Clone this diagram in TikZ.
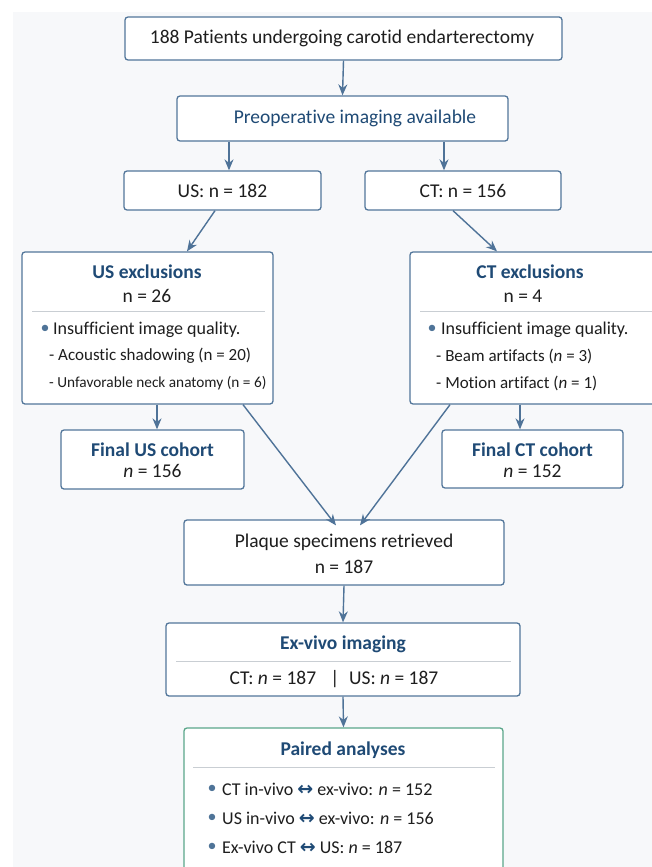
\documentclass[tikz,border=0pt]{standalone}
\usepackage{fontspec}
\setmainfont{Carlito}[RawFeature={-liga;-clig;-dlig;-calt}]
\newfontfamily\symfont{DejaVu Sans}
\usetikzlibrary{arrows.meta,calc}
\definecolor{bgc}{HTML}{F7F8FA}
\definecolor{boxc}{HTML}{52769A}
\definecolor{arrc}{HTML}{4F7398}
\definecolor{titc}{HTML}{1F4A75}
\definecolor{txtc}{HTML}{1E1E1E}
\definecolor{grnc}{HTML}{5AA68A}
\definecolor{sepc}{HTML}{C9CED3}
\definecolor{bulc}{HTML}{4F7498}
\begin{document}
\begin{tikzpicture}[x=1pt,y=-1pt,
  box/.style={draw=boxc, line width=1.3pt, fill=white, rounded corners=3pt, inner sep=0pt},
  gbox/.style={box, draw=grnc},
  txt/.style={font=\fontsize{19.5}{22}\selectfont, text=txtc, inner sep=0pt},
  body/.style={font=\fontsize{18}{21}\selectfont, text=txtc, inner sep=0pt, anchor=west},
  sub/.style={font=\fontsize{17}{20}\selectfont, text=txtc, inner sep=0pt, anchor=west},
  subs/.style={font=\fontsize{15.3}{19}\selectfont, text=txtc, inner sep=0pt, anchor=west},
  ttl/.style={font=\fontsize{19.5}{22}\selectfont\bfseries, text=titc, inner sep=0pt},
  bul/.style={font=\fontsize{18}{21}\selectfont, text=bulc, inner sep=0pt},
  sep/.style={draw=sepc, line width=1pt},
  arr/.style={draw=arrc, line width=1.4pt, -{Stealth[length=11pt,width=9pt]}}
]
\useasboundingbox (0,0) rectangle (652,867);
\clip (0,0) rectangle (652,867);
\fill[white] (0,0) rectangle (652,867);
\fill[bgc] (13,12) rectangle (652,867);

% boxes
\node[box, minimum width=437pt, minimum height=43pt] (top) at (343.5,38.5) {};
\node[box, minimum width=331pt, minimum height=45pt] (pre) at (342.5,118.5) {};
\node[box, minimum width=197pt, minimum height=39pt] (us) at (222.5,190.5) {};
\node[box, minimum width=196pt, minimum height=39pt] (ct) at (463,190.5) {};
\node[box, minimum width=251pt, minimum height=152pt] (usx) at (147.5,328) {};
\node[box, minimum width=251pt, minimum height=152pt] (ctx) at (535.5,328) {};
\node[box, minimum width=183pt, minimum height=59pt] (fus) at (152.5,459.5) {};
\node[box, minimum width=181pt, minimum height=58pt] (fct) at (532.5,459) {};
\node[box, minimum width=320pt, minimum height=65pt] (pl) at (344,552.5) {};
\node[box, minimum width=354pt, minimum height=73pt] (ex) at (343,659.5) {};
\node[gbox, minimum width=319pt, minimum height=160pt] (pa) at (343.5,808) {};

% texts
\node[txt] (toptxt) at (342,38.5) {188 Patients undergoing carotid endarterectomy};
\node[txt, text=titc] (pretxt) at (355,118.5) {Preoperative imaging available};
\node[txt] (ustxt) at (222.5,190.5) {US: n = 182};
\node[txt] (cttxt) at (463,190.5) {CT: n = 156};

\node[ttl] (usxt) at (147,272) {US exclusions};
\node[txt] (usxn) at (147,296) {n = 26};
\draw[sep] (32,311) -- (265,311);
\node[bul] (usb) at (45,329) {\textbullet};
\node[body] (usx1) at (53,330) {Insufficient image quality.};
\node[sub] (usx2) at (49,356) {- Acoustic shadowing (n = 20)};
\node[subs] (usx3) at (49,383) {- Unfavorable neck anatomy (n = 6)};

\node[ttl] (ctxt) at (530,272) {CT exclusions};
\node[txt] (ctxn) at (523,296) {n = 4};
\draw[sep] (420,311) -- (660,311);
\node[bul] (ctb) at (432,329) {\textbullet};
\node[body] (ctx1) at (441,330) {Insufficient image quality.};
\node[sub] (ctx2) at (436,356) {- Beam artifacts (\textit{n} = 3)};
\node[sub] (ctx3) at (436,383) {- Motion artifact (\textit{n} = 1)};

\node[ttl] (fust) at (152.5,450) {Final US cohort};
\node[txt] (fusn) at (152.5,471) {\textit{n} = 156};
\node[ttl] (fctt) at (532.5,450) {Final CT cohort};
\node[txt] (fctn) at (532.5,471) {\textit{n} = 152};

\node[txt] (plt) at (344,542) {Plaque specimens retrieved};
\node[txt] (pln) at (344,567) {n = 187};

\node[ttl] (ext) at (343,644) {Ex-vivo imaging};
\draw[sep] (176,661) -- (511,661);
\node[txt] (exn) at (334,679) {CT: \textit{n} = 187 \enspace|\enspace US: \textit{n} = 187};

\node[ttl] (pat) at (343,750) {Paired analyses};
\draw[sep] (193,767) -- (495,767);
\node[bul] (pb1) at (212,789) {\textbullet};
\node[body] (pa1) at (222,789) {CT in-vivo {\color{titc}\symfont\bfseries\fontsize{19}{21}\selectfont ↔} ex-vivo: \textit{n} = 152};
\node[bul] (pb2) at (212,818) {\textbullet};
\node[body] (pa2) at (222,818) {US in-vivo {\color{titc}\symfont\bfseries\fontsize{19}{21}\selectfont ↔} ex-vivo: \textit{n} = 156};
\node[bul] (pb3) at (212,847) {\textbullet};
\node[body] (pa3) at (222,847) {Ex-vivo CT {\color{titc}\symfont\bfseries\fontsize{19}{21}\selectfont ↔} US: \textit{n} = 187};

% connectors
\draw[arr] (top.south) -- (pre.north);
\draw[arr] ([xshift=6.5pt]us.north |- pre.south) -- ([xshift=6.5pt]us.north);
\draw[arr] ([xshift=-19pt]ct.north |- pre.south) -- ([xshift=-19pt]ct.north);
\draw[arr] ([xshift=-7.5pt]us.south) -- ([xshift=39.5pt]usx.north);
\draw[arr] ([xshift=-10pt]ct.south) -- ([xshift=-38.5pt]ctx.north);
\draw[arr] ([xshift=9.5pt]usx.south) -- ([xshift=9.5pt]usx.south |- fus.north);
\draw[arr] ([xshift=-15.5pt]ctx.south) -- ([xshift=-15.5pt]ctx.south |- fct.north);
\draw[arr] ([xshift=95.5pt]usx.south) -- ([xshift=-8pt,yshift=-6pt]pl.north);
\draw[arr] ([xshift=-85.5pt]ctx.south) -- ([xshift=16pt,yshift=-6pt]pl.north);
\draw[arr] (pl.south) -- (ex.north);
\draw[arr] (ex.south) -- (pa.north);
\end{tikzpicture}
\end{document}
